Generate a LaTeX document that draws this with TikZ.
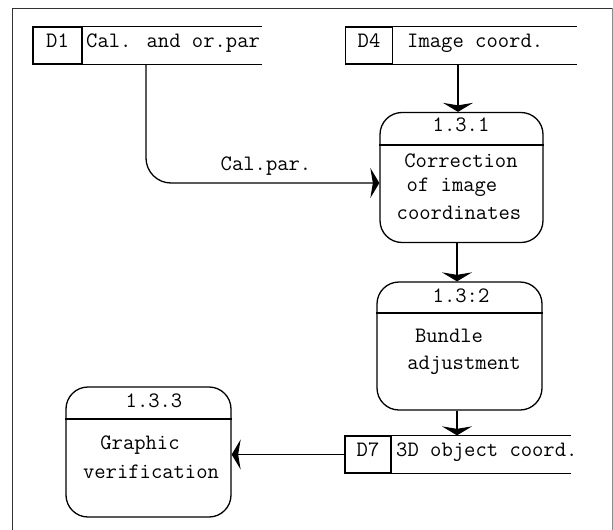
\documentclass[tikz,border=0pt]{standalone}
\usetikzlibrary{arrows.meta}

\tikzset{
  ln/.style={line width=1.3pt},
  frameline/.style={line width=0.9pt, black!80},
  txt/.style={font=\ttfamily\fontsize{22}{26}\selectfont, inner sep=0pt, anchor=mid},
  storeid/.style={ln, draw, rectangle, inner sep=0pt, minimum width=49pt, minimum height=37pt},
  proc/.style={ln, draw, rectangle, rounded corners=22pt, inner sep=0pt},
  flow/.style={ln, -{Stealth[length=9pt, width=30pt, inset=2.5pt]}},
}

\begin{document}
\begin{tikzpicture}[x=1pt, y=-1pt]
  \useasboundingbox (0,0) rectangle (613,530);

  % page frame (open at the bottom)
  \draw[frameline] (12,530) -- (12,8) -- (612,8);
  \draw[line width=0.6pt, black!45] (612,8) -- (612,530);

  % ---- data stores ----
  % D1
  \node[storeid] (d1id) at (57.5,45.5) {};
  \node[txt] (d1idt) at (d1id) {D1};
  \node[txt, anchor=mid west] (d1) at (86,45.5) {Cal. and or.par};
  \coordinate (d1end) at (262,0);
  \draw[ln] (d1id.north west) -- (d1id.north west -| d1end);
  \draw[ln] (d1id.south west) -- (d1id.south west -| d1end);

  % D4
  \node[storeid, minimum width=47pt] (d4id) at (369,45.5) {};
  \node[txt] (d4idt) at (d4id) {D4};
  \node[txt, anchor=mid west] (d4) at (407,45.5) {Image coord.};
  \coordinate (d4end) at (577,0);
  \draw[ln] (d4id.north west) -- (d4id.north west -| d4end);
  \draw[ln] (d4id.south west) -- (d4id.south west -| d4end);

  % D7
  \node[storeid, minimum width=46pt] (d7id) at (368,454.5) {};
  \node[txt] (d7idt) at (d7id) {D7};
  \node[txt, anchor=mid west] (d7) at (396,454.5) {3D object coord.};
  \coordinate (d7end) at (571,0);
  \draw[ln] (d7id.north west) -- (d7id.north west -| d7end);
  \draw[ln] (d7id.south west) -- (d7id.south west -| d7end);

  % ---- processes ----
  % 1.3.1
  \node[proc, minimum width=163pt, minimum height=130pt] (p1) at (461.5,177.5) {};
  \coordinate (p1div) at (0,145);
  \draw[ln] (p1.west |- p1div) -- (p1.east |- p1div);
  \node[txt] (p1n) at (461,129) {1.3.1};
  \node[txt] (p1a) at (461,165) {Correction};
  \node[txt] (p1b) at (452,189) {of image};
  \node[txt] (p1c) at (459,217) {coordinates};

  % 1.3:2
  \node[proc, minimum width=165pt, minimum height=128pt] (p2) at (459.5,346) {};
  \coordinate (p2div) at (0,313);
  \draw[ln] (p2.west |- p2div) -- (p2.east |- p2div);
  \node[txt] (p2n) at (461,300) {1.3:2};
  \node[txt] (p2a) at (449,340) {Bundle};
  \node[txt] (p2b) at (464,367) {adjustment};

  % 1.3.3
  \node[proc, minimum width=165pt, minimum height=130pt] (p3) at (148.5,452) {};
  \coordinate (p3div) at (0,419);
  \draw[ln] (p3.west |- p3div) -- (p3.east |- p3div);
  \node[txt] (p3n) at (154,405) {1.3.3};
  \node[txt] (p3a) at (140,447) {Graphic};
  \node[txt] (p3b) at (151,476) {verification};

  % ---- flows ----
  \coordinate (d1out) at (146,64);
  \coordinate (p1in) at (0,183);
  \draw[flow, rounded corners=25pt] (d1out) |- (p1.west |- p1in);
  \node[txt] (calpar) at (266,168) {Cal.par.};

  \coordinate (d4out) at (458,64);
  \draw[flow] (d4out) -- (p1.north -| d4out);

  \coordinate (p1out) at (457,0);
  \draw[flow] (p1.south -| p1out) -- (p2.north -| p1out);
  \draw[flow] (p2.south -| p1out) -- (d7id.north -| p1out);

  \draw[flow] (d7id.west) -- (p3.east |- d7id.west);
\end{tikzpicture}
\end{document}
